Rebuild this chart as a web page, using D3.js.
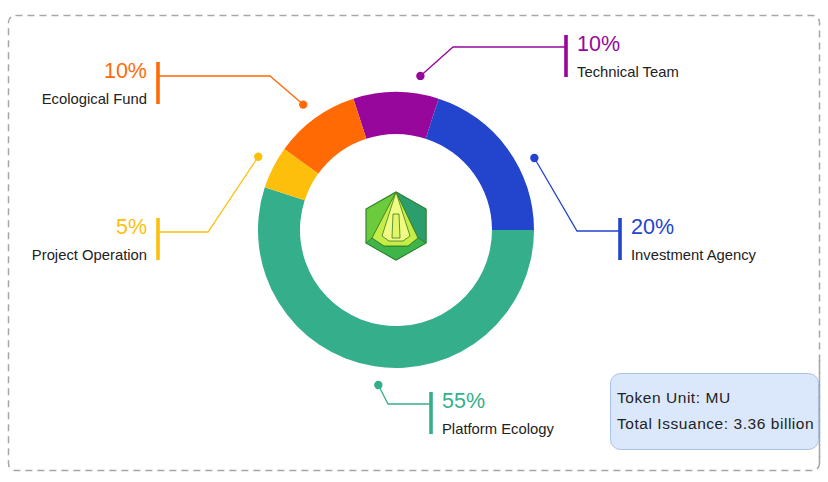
<!DOCTYPE html>
<html>
<head>
<meta charset="utf-8">
<script src="https://cdn.jsdelivr.net/npm/d3@7/dist/d3.min.js"></script>
<style>
  html, body { margin: 0; padding: 0; background: #fff; }
  svg { display: block; font-family: "Liberation Sans", Arial, sans-serif; }
</style>
</head>
<body>
<svg id="chart" width="828" height="482"></svg>
<script>
// ---- data ----
const categories = ["Technical Team", "Investment Agency", "Platform Ecology", "Project Operation", "Ecological Fund"];
const shares = [10, 20, 55, 5, 10];
const percentLabels = ["10%", "20%", "55%", "5%", "10%"];
const colors = ["#98079C", "#2344CC", "#35AF8B", "#FDBF0C", "#FF6A05"];
const infoLines = ["Token Unit: MU", "Total Issuance: 3.36 billion"];

// ---- layout (label placement, not data) ----
const cx = 396, cy = 230, rOuter = 138, rInner = 96, rDot = 156;
const dotNudgeDeg = [9, 8.5, -2.5, 1, -0.5];
// elbow point & bar x for each label; side: 1 = text right of bar, -1 = text left of bar
const labelLayout = [
  { elbowY: 47,  elbowX: 453, barX: 566, barY0: 35,  side: 1 },
  { elbowY: 231, elbowX: 577, barX: 620, barY0: 218, side: 1 },
  { elbowY: 404, elbowX: 388, barX: 431, barY0: 392, side: 1 },
  { elbowY: 232, elbowX: 208, barX: 158, barY0: 218, side: -1 },
  { elbowY: 76,  elbowX: 270, barX: 158, barY0: 62,  side: -1 }
];

const svg = d3.select("#chart");

// dashed frame
svg.append("rect")
  .attr("x", 8.5).attr("y", 15.5).attr("width", 811).attr("height", 455)
  .attr("rx", 7).attr("fill", "none")
  .attr("stroke", "#a6a6a6").attr("stroke-width", 1.5)
  .attr("stroke-dasharray", "7,5");

const g = svg.append("g").attr("transform", `translate(${cx},${cy})`);

const pie = d3.pie().sort(null).value(d => d)
  .startAngle(-18 * Math.PI / 180).endAngle((360 - 18) * Math.PI / 180);
const arcs = pie(shares);
const arc = d3.arc().innerRadius(rInner).outerRadius(rOuter);

g.selectAll("path.slice").data(arcs).join("path")
  .attr("class", "slice")
  .attr("d", arc)
  .attr("fill", (d, i) => colors[i]);

// leaders & labels
arcs.forEach((a, i) => {
  const L = labelLayout[i];
  const ang = (a.startAngle + a.endAngle) / 2 + dotNudgeDeg[i] * Math.PI / 180;
  const dx = cx + rDot * Math.sin(ang), dy = cy - rDot * Math.cos(ang);
  svg.append("polyline")
    .attr("points", `${dx},${dy} ${L.elbowX},${L.elbowY} ${L.barX},${L.elbowY}`)
    .attr("fill", "none").attr("stroke", colors[i]).attr("stroke-width", 1.3);
  svg.append("circle").attr("cx", dx).attr("cy", dy).attr("r", 4.2).attr("fill", colors[i]);
  svg.append("rect")
    .attr("x", L.barX - 1.8).attr("y", L.barY0).attr("width", 3.6).attr("height", 42)
    .attr("fill", colors[i]);
  const tx = L.side > 0 ? L.barX + 11 : L.barX - 11;
  const anchor = L.side > 0 ? "start" : "end";
  svg.append("text")
    .attr("x", tx).attr("y", L.barY0 + 16)
    .attr("text-anchor", anchor).attr("font-size", 21.5)
    .attr("fill", colors[i]).text(percentLabels[i]);
  svg.append("text")
    .attr("x", tx).attr("y", L.barY0 + 42)
    .attr("text-anchor", anchor).attr("font-size", 14.8)
    .attr("fill", "#222").text(categories[i]);
});

// center logo (hexagon emblem)
const logo = svg.append("g").attr("transform", "translate(396,226)");
const hx = 30, hy = 34;
const hex = [[0,-hy],[hx,-hy/2],[hx,hy/2],[0,hy],[-hx,hy/2],[-hx,-hy/2]];
logo.append("polygon").attr("points", hex.map(p => p.join(",")).join(" "))
  .attr("fill", "#6ccb3c").attr("stroke", "#2f7f2c").attr("stroke-width", 1.2);
logo.append("polygon").attr("points", `0,${-hy} ${hx},${-hy/2} ${hx},${hy/2} 22,12`)
  .attr("fill", "#2c9d6c").attr("stroke", "#2f7f2c").attr("stroke-width", 0.8);
logo.append("polygon").attr("points", `${-hx},${hy/2} 0,${hy} ${hx},${hy/2} 22,12 12,20 -12,20 -24,12`)
  .attr("fill", "#3db54a").attr("stroke", "#2f7f2c").attr("stroke-width", 0.8);
logo.append("polygon").attr("points", `0,${-hy} -24,12 -12,20 12,20 22,12`)
  .attr("fill", "#c6ec48").attr("stroke", "#3b7a23").attr("stroke-width", 0.9);
logo.append("polygon").attr("points", `0,${-hy} -14,10 -7,15 7,15 14,10`)
  .attr("fill", "#f0fb84").attr("stroke", "#3b7a23").attr("stroke-width", 0.8);
logo.append("polygon").attr("points", `-3,-12 3,-12 4,12 -4,12`)
  .attr("fill", "#e3f66a").attr("stroke", "#3b7a23").attr("stroke-width", 0.8);

// info box
svg.append("rect")
  .attr("x", 610.5).attr("y", 373.5).attr("width", 208).attr("height", 76)
  .attr("rx", 10).attr("fill", "#dbe8fb").attr("stroke", "#a9c1e6").attr("stroke-width", 1);
svg.selectAll("text.info").data(infoLines).join("text")
  .attr("class", "info")
  .attr("x", 617).attr("y", (d, i) => 403 + i * 26)
  .attr("font-size", 15.5).attr("fill", "#222")
  .attr("letter-spacing", 0.55)
  .text(d => d);
// redraw frame's right edge over box
svg.append("line")
  .attr("x1", 819.5).attr("x2", 819.5).attr("y1", 360).attr("y2", 466)
  .attr("stroke", "#a6a6a6").attr("stroke-width", 1.5).attr("stroke-dasharray", "7,5");
</script>
</body>
</html>
